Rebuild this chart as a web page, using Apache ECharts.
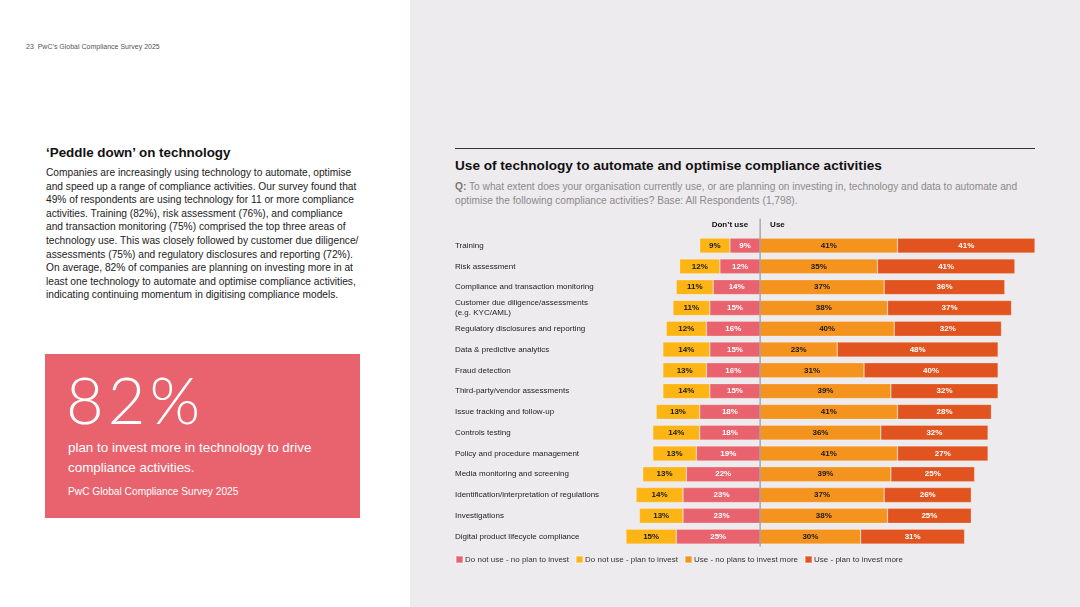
<!DOCTYPE html>
<html>
<head>
<meta charset="utf-8">
<script src="https://cdn.jsdelivr.net/npm/echarts@6/dist/echarts.min.js"></script>
<style>
  html,body{margin:0;padding:0;width:1080px;height:607px;overflow:hidden;background:#fff;font-family:"Liberation Sans",Arial,Helvetica,sans-serif;}
  #page{position:relative;width:1080px;height:607px;}
  #right{position:absolute;left:410px;top:0;width:670px;height:607px;background:#EEEBEE;}
  #chart{position:absolute;left:0;top:0;width:1080px;height:607px;}
  .t{position:absolute;white-space:nowrap;}
  #folio{left:26px;top:43px;font-size:7px;color:#555;}
  #h1{left:46px;top:145px;font-size:13.4px;font-weight:bold;color:#111;}
  #body{left:46px;top:166px;font-size:10.2px;line-height:13.6px;color:#222;}
  #box{position:absolute;left:45px;top:354px;width:315px;height:164px;background:#E9636E;}
  #big{left:21px;top:6px;font-size:65px;font-weight:300;color:#fff;letter-spacing:4px;font-family:Lato,Roboto,"Liberation Sans",Arial,sans-serif;}
  #sub{left:23px;top:84px;font-size:13.4px;line-height:20px;color:#fff;}
  #src{left:23px;top:132px;font-size:10.2px;color:#fff;}
  #rule{position:absolute;left:455px;top:148px;width:580px;height:1px;background:#333;}
  #title{left:455px;top:158px;font-size:13.6px;font-weight:bold;color:#111;}
  #q{left:455px;top:180px;font-size:10.2px;line-height:14px;color:#8a8a8a;}
</style>
</head>
<body>
<div id="page">
  <div id="right"></div>
  <div class="t" id="folio">23&nbsp; PwC’s Global Compliance Survey 2025</div>
  <div class="t" id="h1">‘Peddle down’ on technology</div>
  <div class="t" id="body">Companies are increasingly using technology to automate, optimise<br>and speed up a range of compliance activities. Our survey found that<br>49% of respondents are using technology for 11 or more compliance<br>activities. Training (82%), risk assessment (76%), and compliance<br>and transaction monitoring (75%) comprised the top three areas of<br>technology use. This was closely followed by customer due diligence/<br>assessments (75%) and regulatory disclosures and reporting (72%).<br>On average, 82% of companies are planning on investing more in at<br>least one technology to automate and optimise compliance activities,<br>indicating continuing momentum in digitising compliance models.</div>
  <div id="box">
    <div class="t" id="big">82%</div>
    <div class="t" id="sub">plan to invest more in technology to drive<br>compliance activities.</div>
    <div class="t" id="src">PwC Global Compliance Survey 2025</div>
  </div>
  <div id="rule"></div>
  <div class="t" id="title">Use of technology to automate and optimise compliance activities</div>
  <div class="t" id="q"><b style="color:#777">Q:</b> To what extent does your organisation currently use, or are planning on investing in, technology and data to automate and<br>optimise the following compliance activities? Base: All Respondents (1,798).</div>
  <div id="chart"></div>
</div>
<script>
const categories = [
  "Training",
  "Risk assessment",
  "Compliance and transaction monitoring",
  "Customer due diligence/assessments\n(e.g. KYC/AML)",
  "Regulatory disclosures and reporting",
  "Data & predictive analytics",
  "Fraud detection",
  "Third-party/vendor assessments",
  "Issue tracking and follow-up",
  "Controls testing",
  "Policy and procedure management",
  "Media monitoring and screening",
  "Identification/interpretation of regulations",
  "Investigations",
  "Digital product lifecycle compliance"
];
const seriesNames = [
  "Do not use - no plan to invest",
  "Do not use - plan to invest",
  "Use - no plans to invest more",
  "Use - plan to invest more"
];
const noUseNoPlan = [9, 12, 14, 15, 16, 15, 16, 15, 18, 18, 19, 22, 23, 23, 25];
const noUsePlan   = [9, 12, 11, 11, 12, 14, 13, 14, 13, 14, 13, 13, 14, 13, 15];
const useNoPlan   = [41, 35, 37, 38, 40, 23, 31, 39, 41, 36, 41, 39, 37, 38, 30];
const usePlan     = [41, 41, 36, 37, 32, 48, 40, 32, 28, 32, 27, 25, 26, 25, 31];
const sideLabels = ["Don’t use", "Use"];

const colors = ['#E9636E', '#FDB515', '#F5931F', '#E2541F'];
const labelColors = ['#fff', '#1a1a1a', '#1a1a1a', '#fff'];
const values = [noUseNoPlan.map(v => -v), noUsePlan.map(v => -v), useNoPlan, usePlan];

const chart = echarts.init(document.getElementById('chart'), null, {renderer: 'canvas'});
const option = {
  animation: false,
  backgroundColor: 'transparent',
  textStyle: {fontFamily: '"Liberation Sans", Arial, sans-serif'},
  grid: {left: 626, right: 45, top: 235.2, height: 311.8},
  xAxis: {
    type: 'value', min: -40, max: 82,
    show: false, splitLine: {show: false}
  },
  yAxis: {
    type: 'category', data: categories, inverse: true,
    axisLine: {show: false}, axisTick: {show: false},
    axisLabel: {align: 'left', margin: 171, fontSize: 8, color: '#222', lineHeight: 10}
  },
  legend: {
    data: seriesNames, left: 455, top: 555, padding: 0, itemWidth: 7, itemHeight: 7, itemGap: 6,
    icon: 'rect',
    textStyle: {fontSize: 8, color: '#333', padding: [0, 0, 0, -3]}
  },
  series: values.map((d, i) => ({
    name: seriesNames[i], type: 'bar', stack: 'total', data: d,
    barWidth: 15,
    itemStyle: {color: colors[i], borderColor: 'rgba(255,255,255,0.35)', borderWidth: 0.6},
    label: {
      show: true, position: 'inside', fontSize: 8, fontWeight: 'bold',
      color: labelColors[i],
      formatter: p => Math.abs(p.value) + '%'
    },
    z: 2
  }))
};
chart.setOption(option);

// zero divider and side headers placed via the axis scale
const x0 = chart.convertToPixel({xAxisIndex: 0}, 0);
const yFirst = chart.convertToPixel({yAxisIndex: 0}, 0);
const yBot = chart.convertToPixel({yAxisIndex: 0}, categories.length - 1) + 10;
chart.setOption({
  graphic: [
    {type: 'line', shape: {x1: x0, y1: yFirst - 27, x2: x0, y2: yBot}, style: {stroke: '#888', lineWidth: 1}, z: 10},
    {type: 'text', x: x0 - 12, y: yFirst - 21, style: {text: sideLabels[0], fontSize: 8, fontWeight: 'bold', fill: '#111', align: 'right', verticalAlign: 'middle', fontFamily: '"Liberation Sans", Arial, sans-serif'}},
    {type: 'text', x: x0 + 10, y: yFirst - 21, style: {text: sideLabels[1], fontSize: 8, fontWeight: 'bold', fill: '#111', align: 'left', verticalAlign: 'middle', fontFamily: '"Liberation Sans", Arial, sans-serif'}}
  ]
});
</script>
</body>
</html>
